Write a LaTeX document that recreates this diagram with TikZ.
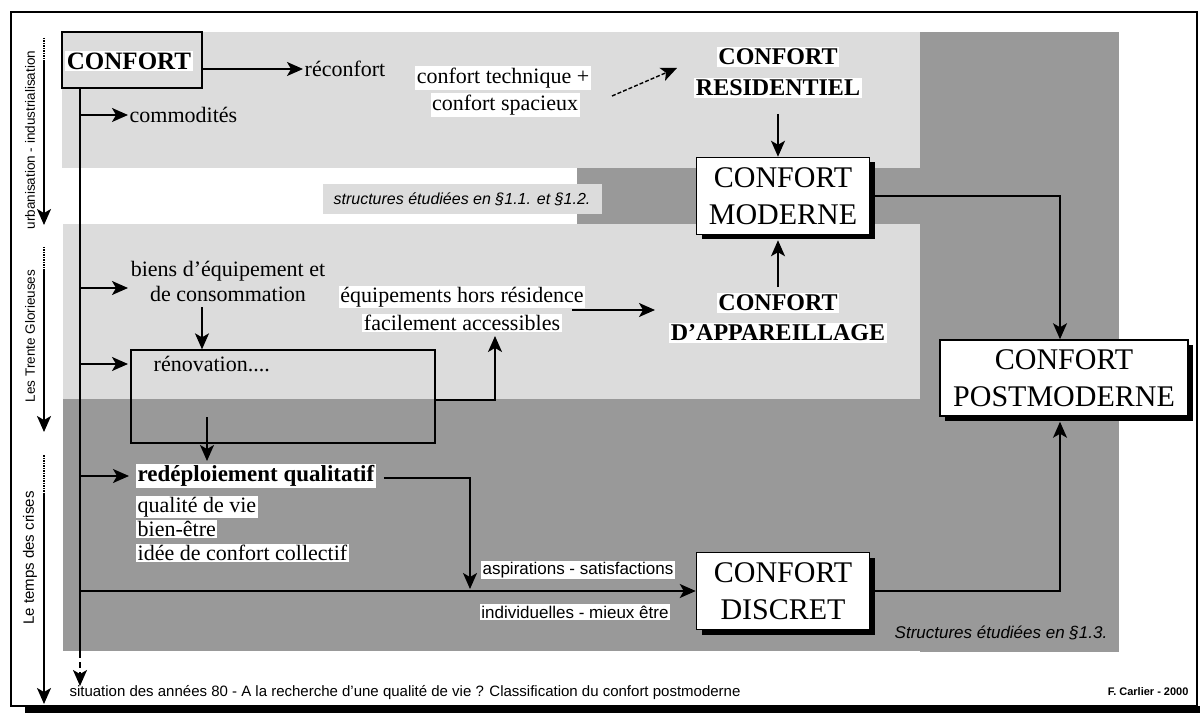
\documentclass[tikz,border=0pt]{standalone}
\usepackage{fontspec}
\setmainfont{Liberation Serif}
\setsansfont{Liberation Sans}
\usetikzlibrary{arrows.meta,shadows,calc}
\definecolor{lightg}{HTML}{DCDCDC}
\definecolor{darkg}{HTML}{999999}
\tikzset{
 arr/.style={-{Stealth[length=16pt,width=14pt,inset=4pt]}, line width=1.6pt},
 ln/.style={line width=1.6pt},
 halo/.style={fill=white, inner sep=1.5pt},
 body/.style={font=\fontsize{22}{26}\selectfont, inner sep=1.5pt},
 bigbold/.style={font=\bfseries\fontsize{24}{28}\selectfont},
 bigbox/.style={draw, line width=1.5pt, fill=white, align=center, font=\fontsize{30}{37}\selectfont, inner sep=2pt, drop shadow={shadow xshift=5pt, shadow yshift=-5pt, fill=black, opacity=1}},
 sidelab/.style={rotate=90, font=\sffamily\fontsize{13.5}{15}\selectfont},
 itlab/.style={font=\sffamily\itshape\fontsize{16}{18}\selectfont},
 smallsans/.style={font=\sffamily\fontsize{17}{19}\selectfont},
}
\begin{document}
\begin{tikzpicture}[x=1pt,y=-1pt]
\useasboundingbox (0,0) rectangle (1200,714);
% background areas
\fill[lightg] (62,32) rectangle (920,168);
\fill[darkg] (920,32) rectangle (1119,652);
\fill[darkg] (577,168) rectangle (920,224);
\fill[lightg] (63,224) rectangle (920,399);
\fill[darkg] (63,399) rectangle (1119,651);
\fill[lightg] (323,184) rectangle (602,214);
% frame
\draw[line width=1.5pt] (11,12) rectangle (1197,706);
\fill (25,706) rectangle (1200,713);

% side labels and arrows
\node[sidelab] (l1) at (30,140) {urbanisation - industrialisation};
\node[sidelab] (l2) at (30,336) {Les Trente Glorieuses};
\node[sidelab, font=\sffamily\fontsize{15}{17}\selectfont] (l3) at (30,558) {Le temps des crises};
\coordinate (l1a) at (44,38); \coordinate (l1b) at (44,62); \coordinate (l1c) at (44,225);
\coordinate (l2a) at (44,247); \coordinate (l2b) at (44,270); \coordinate (l2c) at (44,432);
\coordinate (l3a) at (44,455); \coordinate (l3b) at (44,493); \coordinate (l3c) at (44,704);
\draw[line width=1.5pt, densely dotted] (l1a) -- (l1b);
\draw[arr] (l1b) -- (l1c);
\draw[line width=1.5pt, densely dotted] (l2a) -- (l2b);
\draw[arr] (l2b) -- (l2c);
\draw[line width=1.5pt, densely dotted] (l3a) -- (l3b);
\draw[arr] (l3b) -- (l3c);

% CONFORT box
\node[draw, line width=2pt, fill=lightg, minimum width=140pt, minimum height=56pt] (conf) at (132,60) {};
\node[halo, font=\bfseries\fontsize{25}{28}\selectfont] (conft) at (129,61) {CONFORT};
\node[body, anchor=west] (reco) at (303,69) {réconfort};
\draw[arr] (conf.east |- reco.west) -- (reco.west);

% main vertical line
\coordinate (vtop) at (80,88);
\coordinate (vdash) at (80,652);
\coordinate (vend) at (80,686);
\draw[ln] (vtop) -- (vdash);
\draw[arr, dash pattern=on 6pt off 4pt] (vdash) -- (vend);

\node[body, anchor=west] (comm) at (128,115) {commodités};
\draw[arr] (vtop |- comm.west) -- (comm.west);

% top region
\node[halo, body] (tech1) at (503,78) {confort technique +};
\node[halo, body] (tech2) at (505,105) {confort spacieux};
\coordinate (d1) at (612,96); \coordinate (d2) at (677,68);
\draw[arr, dash pattern=on 4pt off 2pt, line width=1.4pt] (d1) -- (d2);
\node[halo, bigbold] (res1) at (778,57) {CONFORT};
\node[halo, bigbold] (res2) at (778,88) {RESIDENTIEL};

% main boxes
\node[bigbox, minimum width=173pt, minimum height=77pt] (moderne) at (783,196) {CONFORT\\MODERNE};
\node[bigbox, minimum width=248pt, minimum height=76pt] (postmod) at (1064,378) {CONFORT\\POSTMODERNE};
\node[bigbox, minimum width=173pt, minimum height=77pt] (discret) at (783,591) {CONFORT\\DISCRET};

\draw[arr, shorten <=16pt] (res2.south) -- (res2.south |- moderne.north);

% structures label
\node[itlab] (struc1) at (462,199) {structures étudiées en §1.1. et §1.2.};

% middle region
\node[body, align=center, font=\fontsize{22}{25}\selectfont] (biens) at (228,281) {biens d'équipement et\\de consommation};
\coordinate (b1) at (128,288);
\draw[arr] (vtop |- b1) -- (b1);
\node[draw, line width=1.3pt, minimum width=304pt, minimum height=93pt] (renov) at (283,396.5) {};
\node[body, anchor=west] (renovt) at (152,364) {rénovation....};
\coordinate (b2) at (202,307);
\draw[arr] (b2) -- (b2 |- renov.north);
\coordinate (r1) at (128,364);
\draw[arr] (vtop |- r1) -- (r1);

\node[halo, body] (eq1) at (462,297) {équipements hors résidence};
\node[halo, body] (eq2) at (462,323) {facilement accessibles};
\coordinate (r2) at (495,400); \coordinate (r3) at (495,336);
\draw[arr] (renov.east |- r2) -- (r2) -- (r3);
\coordinate (e1) at (572,310); \coordinate (e2) at (655,310);
\draw[arr] (e1) -- (e2);

\node[halo, bigbold] (app1) at (778,303) {CONFORT};
\node[halo, bigbold] (app2) at (778,333) {D'APPAREILLAGE};
\draw[arr, shorten <=6pt, shorten >=5pt] (app1.north) -- (app1.north |- moderne.south);

% bottom region
\node[halo, anchor=west, font=\bfseries\fontsize{23}{27}\selectfont] (redep) at (136,476) {redéploiement qualitatif};
\draw[arr, shorten >=7pt] (vtop |- redep.west) -- (redep.west);
\coordinate (r4) at (207,417); \coordinate (r5) at (207,461);
\draw[arr] (r4) -- (r5);
\node[halo, body, anchor=west] (q2) at (136,507) {qualité de vie};
\node[halo, body, anchor=west] (q3) at (136,529) {bien-être};
\node[halo, body, anchor=west] (q4) at (136,553) {idée de confort collectif};
\coordinate (q1) at (470,478); \coordinate (m1) at (470,589);
\draw[arr, shorten <=8pt] (redep.east |- q1) -- (q1) -- (m1);

\draw[arr] (vtop |- discret.west) -- (discret.west);
\node[halo, smallsans] (asp) at (578,570) {aspirations - satisfactions};
\node[halo, smallsans] (ind) at (575,612) {individuelles - mieux être};

\coordinate (c1) at (1060,0);
\draw[arr] (moderne.east) -- (moderne.east -| c1) -- (c1 |- postmod.north);
\draw[arr, shorten >=5pt] (discret.east) -- (discret.east -| c1) -- (c1 |- postmod.south);

\node[itlab, font=\sffamily\itshape\fontsize{17}{19}\selectfont] (struc2) at (1001,633) {Structures étudiées en §1.3.};

% footer
\node[anchor=west, font=\sffamily\fontsize{15}{18}\selectfont] (foot) at (66,693) {situation des années 80 - A la recherche d'une qualité de vie ? Classification du confort postmoderne};
\node[anchor=east, font=\sffamily\bfseries\fontsize{11}{13}\selectfont] (auth) at (1192,692) {F. Carlier - 2000};
\end{tikzpicture}
\end{document}
